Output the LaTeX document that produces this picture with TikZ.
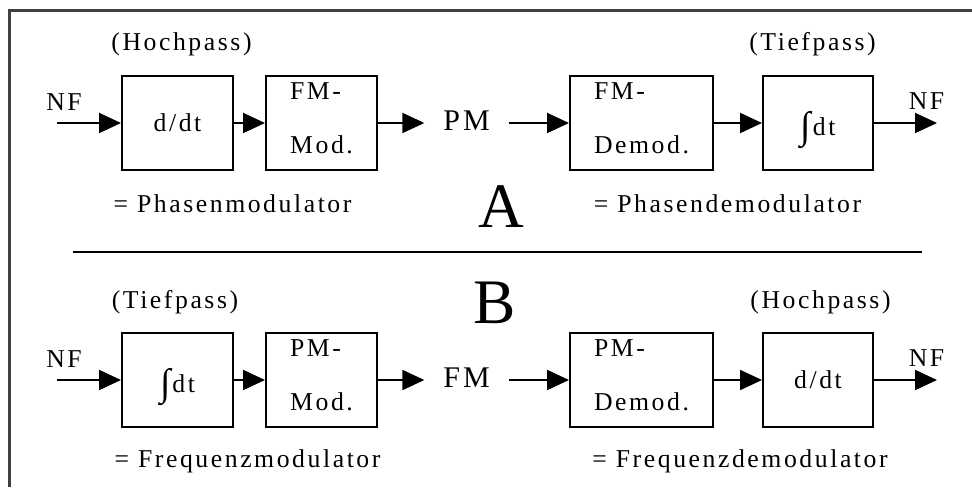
\documentclass[tikz,border=0pt]{standalone}
\usepackage{fontspec}
\setmainfont{Liberation Serif}[LetterSpace=10]
\usetikzlibrary{positioning,arrows.meta}

\tikzset{
  blk/.style={draw,rectangle,line width=1pt,minimum height=47pt,inner sep=0pt},
  blktwo/.style={blk,align=left,text depth=4.6pt},
  lbl/.style={anchor=base,inner sep=0pt},
  sig/.style={inner xsep=9pt,inner ysep=0pt,text depth=1.9pt,font=\fontsize{15}{17}\selectfont},
  big/.style={anchor=base,inner sep=0pt,font=\fontsize{31.7}{34}\selectfont},
}
\newcommand{\intsym}{{\fontsize{19}{19}\selectfont\raisebox{-1.5pt}{∫}}\hspace{1pt}}

\begin{document}
\begin{tikzpicture}[x=0.5pt,y=-0.5pt,font=\fontsize{12.85}{15}\selectfont,
  >={Triangle[length=11pt,width=10pt]},line width=1pt]
  \useasboundingbox (0,0) rectangle (972,487);

  % frame
  \draw[black!75,line width=1.5pt] (9.5,487) -- (9.5,10) -- (972,10);

  % A: phase modulation
  \node[blk,minimum width=55.5pt] (dtA) at (177.5,123) {d/dt};
  \node[blktwo,minimum width=55.5pt] (fmmodA) at (321.5,123) {FM-\\[12pt]Mod.};
  \node[sig] (pmA) at (466.5,123) {PM};
  \node[blktwo,minimum width=71.5pt] (fmdemA) at (641.5,123) {FM-\\[12pt]Demod.};
  \node[blk,minimum width=55pt,text depth=0pt] (intA) at (818,123) {\intsym dt};
  \coordinate (nfinA) at (57,123);
  \coordinate (nfoutA) at (937,123);
  \node[lbl] (nfA) at (64,110) {NF};
  \node[lbl] (nfA2) at (926.5,109) {NF};
  \node[lbl] (hpA) at (181.5,50) {(Hochpass)};
  \node[lbl] (tpA) at (812.5,50) {(Tiefpass)};
  \node[lbl] (pmodA) at (232.5,212) {= Phasenmodulator};
  \node[lbl] (pdemA) at (727.5,212) {= Phasendemodulator};
  \node[big] (lblA) at (501,227) {A};

  \foreach \s/\t in {nfinA/dtA, dtA/fmmodA, fmmodA/pmA, pmA/fmdemA, fmdemA/intA, intA/nfoutA}
    \draw[->] (\s) -- (\t);

  \draw (73,252) -- (922,252);

  % B: frequency modulation
  \node[blk,minimum width=55.5pt,text depth=0pt] (intB) at (177.5,380) {\intsym dt};
  \node[blktwo,minimum width=55.5pt] (pmmodB) at (321.5,380) {PM-\\[12pt]Mod.};
  \node[sig] (fmB) at (466.5,380) {FM};
  \node[blktwo,minimum width=71.5pt] (pmdemB) at (641.5,380) {PM-\\[12pt]Demod.};
  \node[blk,minimum width=55pt] (dtB) at (818,380) {d/dt};
  \coordinate (nfinB) at (57,380);
  \coordinate (nfoutB) at (937,380);
  \node[lbl] (nfB) at (64,367) {NF};
  \node[lbl] (nfB2) at (926.5,366) {NF};
  \node[lbl] (tpB) at (175,308) {(Tiefpass)};
  \node[lbl] (hpB) at (820.5,308) {(Hochpass)};
  \node[lbl] (fmodB) at (247.5,467) {= Frequenzmodulator};
  \node[lbl] (fdemB) at (740,467) {= Frequenzdemodulator};
  \node[big] (lblB) at (495,323) {B};

  \foreach \s/\t in {nfinB/intB, intB/pmmodB, pmmodB/fmB, fmB/pmdemB, pmdemB/dtB, dtB/nfoutB}
    \draw[->] (\s) -- (\t);
\end{tikzpicture}
\end{document}
